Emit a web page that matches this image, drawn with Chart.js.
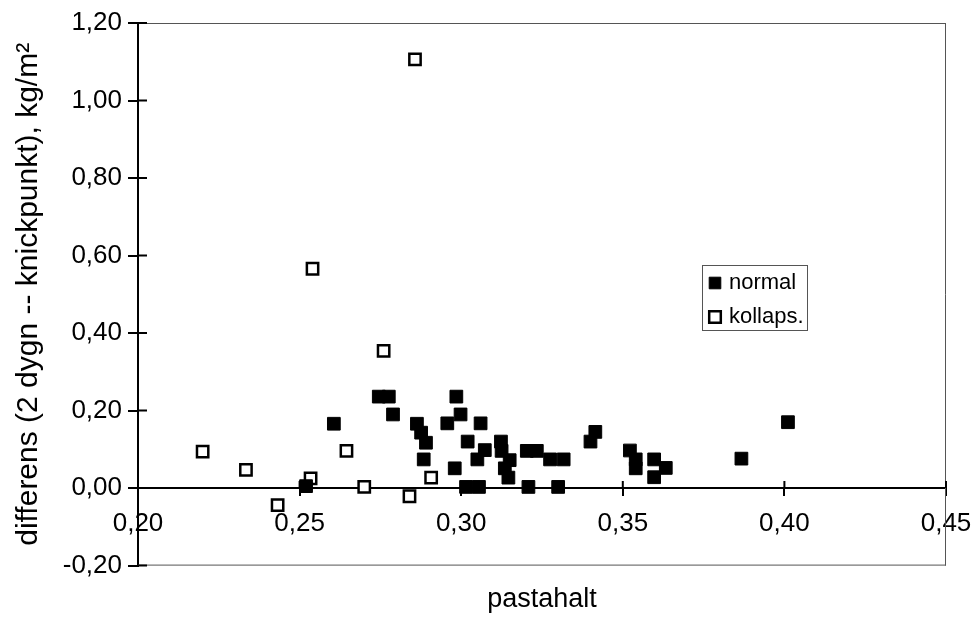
<!DOCTYPE html>
<html><head><meta charset="utf-8">
<script src="https://cdn.jsdelivr.net/npm/chart.js@4"></script>
<style>html,body{margin:0;padding:0;background:#fff}#wrap{width:973px;height:623px}</style>
</head><body><div id="wrap"><canvas id="c" width="973" height="623"></canvas></div>
<script>
const seriesNames = ['normal', 'kollaps.'];
const normalX = [0.252, 0.2606, 0.2745, 0.2776, 0.2789, 0.2863, 0.2876, 0.2891, 0.2884, 0.2957, 0.2985, 0.2998, 0.298, 0.302, 0.3015, 0.3055, 0.306, 0.3073, 0.305, 0.3123, 0.3125, 0.315, 0.3135, 0.3146, 0.3203, 0.3234, 0.3208, 0.3275, 0.3317, 0.330, 0.340, 0.3415, 0.3522, 0.354, 0.3597, 0.354, 0.3597, 0.3633, 0.3867, 0.4011];
const normalY = [0.005, 0.166, 0.236, 0.236, 0.190, 0.166, 0.143, 0.117, 0.074, 0.167, 0.236, 0.190, 0.051, 0.120, 0.003, 0.003, 0.167, 0.098, 0.074, 0.120, 0.096, 0.072, 0.051, 0.027, 0.096, 0.096, 0.003, 0.074, 0.074, 0.003, 0.120, 0.145, 0.097, 0.074, 0.074, 0.051, 0.028, 0.052, 0.076, 0.170];
const kollapsX = [0.220, 0.2334, 0.2432, 0.2534, 0.254, 0.2645, 0.270, 0.276, 0.284, 0.2857, 0.2907];
const kollapsY = [0.094, 0.047, -0.044, 0.025, 0.566, 0.096, 0.003, 0.354, -0.021, 1.106, 0.027];
const xTicks = [0.20, 0.25, 0.30, 0.35, 0.40, 0.45];
const yTicks = [-0.20, 0.00, 0.20, 0.40, 0.60, 0.80, 1.00, 1.20];
const xTitle = 'pastahalt';
const yTitle = 'differens (2 dygn -- knickpunkt), kg/m²';

const FONT = "'Liberation Sans', Arial, Helvetica, sans-serif";
const fmt = v => Number(v).toFixed(2).replace('.', ',');
const toPts = (xs, ys) => xs.map((x, i) => ({x: x, y: ys[i]}));

const decor = {
  id: 'decor',
  beforeDatasetsDraw(chart) {
    const {ctx, chartArea: a, scales: {x, y}} = chart;
    ctx.save();
    ctx.strokeStyle = '#555';
    ctx.lineWidth = 1;
    ctx.beginPath();
    ctx.moveTo(a.left, a.top + 0.5); ctx.lineTo(a.right, a.top + 0.5);
    ctx.moveTo(a.right - 0.5, a.top); ctx.lineTo(a.right - 0.5, a.bottom);
    ctx.moveTo(a.left, a.bottom - 0.5); ctx.lineTo(a.right, a.bottom - 0.5);
    ctx.stroke();
    ctx.strokeStyle = '#000';
    ctx.lineWidth = 2;
    const y0 = y.getPixelForValue(0);
    ctx.beginPath();
    x.ticks.forEach(t => { const px = x.getPixelForValue(t.value); ctx.moveTo(px, y0); ctx.lineTo(px, y0 - 7); });
    y.ticks.forEach(t => { const py = y.getPixelForValue(t.value); ctx.moveTo(a.left, py); ctx.lineTo(a.left + 9, py); });
    ctx.stroke();
    ctx.restore();
  },
  afterDraw(chart) {
    const ctx = chart.ctx;
    const bx = 702, by = 265, bw = 105, bh = 65;
    ctx.save();
    ctx.fillStyle = '#fff';
    ctx.fillRect(bx, by, bw, bh);
    ctx.strokeStyle = '#555';
    ctx.lineWidth = 1;
    ctx.strokeRect(bx + 0.5, by + 0.5, bw, bh);
    ctx.font = '22px ' + FONT;
    ctx.textBaseline = 'middle';
    ctx.textAlign = 'left';
    chart.data.datasets.forEach((ds, i) => {
      const cy = by + 18 + i * 34;
      ctx.fillStyle = ds.backgroundColor; ctx.strokeStyle = ds.borderColor; ctx.lineWidth = ds.borderWidth;
      ctx.beginPath();
      const s = 5.8;
      ctx.rect(bx + 13 - s, cy - s, 2 * s, 2 * s);
      ctx.fill(); ctx.stroke();
      ctx.fillStyle = '#000';
      ctx.fillText(ds.label, bx + 27, cy);
    });
    ctx.restore();
  }
};

new Chart(document.getElementById('c'), {
  type: 'scatter',
  data: {
    datasets: [
      {label: seriesNames[0], data: toPts(normalX, normalY), pointStyle: 'rect', pointRadius: 9, pointHoverRadius: 9,
       backgroundColor: '#000', borderColor: '#000', borderWidth: 1},
      {label: seriesNames[1], data: toPts(kollapsX, kollapsY), pointStyle: 'rect', pointRadius: 8, pointHoverRadius: 8,
       backgroundColor: '#fff', borderColor: '#000', borderWidth: 2.5}
    ]
  },
  options: {
    responsive: false,
    animation: false,
    devicePixelRatio: 1,
    layout: {padding: {left: 0, right: 27, top: 23, bottom: 0}},
    plugins: {
      legend: {display: false},
      tooltip: {enabled: false},
      title: {display: true, text: xTitle, position: 'bottom', fullSize: false, color: '#000',
              font: {family: FONT, size: 27, weight: 'normal'}, padding: {top: 18, bottom: 7}}
    },
    scales: {
      x: {
        type: 'linear', position: {y: 0}, min: 0.2, max: 0.45,
        afterBuildTicks: s => { s.ticks = xTicks.map(v => ({value: v})); },
        afterFit: s => { s.paddingLeft = 0; s.paddingRight = 0; },
        ticks: {color: '#000', font: {family: FONT, size: 26}, padding: 13, maxRotation: 0, autoSkip: false, callback: v => fmt(v)},
        grid: {drawOnChartArea: false, tickLength: 7, color: '#000', lineWidth: 2},
        border: {color: '#000', width: 2}
      },
      y: {
        type: 'linear', position: 'left', min: -0.2, max: 1.2,
        afterBuildTicks: s => { s.ticks = yTicks.map(v => ({value: v})); },
        afterFit: s => { s.width = 138; },
        ticks: {color: '#000', font: {family: FONT, size: 26}, padding: 6, callback: v => fmt(v)},
        grid: {drawOnChartArea: false, tickLength: 10, color: '#000', lineWidth: 2},
        border: {color: '#000', width: 2},
        title: {display: true, text: yTitle, color: '#000', font: {family: FONT, size: 30}, padding: {top: 11, bottom: 0}}
      }
    }
  },
  plugins: [decor]
});
</script></body></html>
